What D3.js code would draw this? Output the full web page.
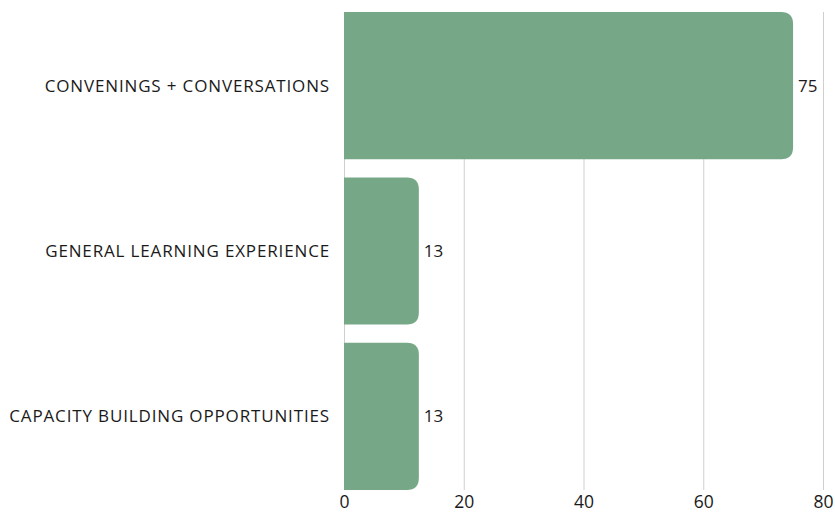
<!DOCTYPE html>
<html>
<head>
<meta charset="utf-8">
<script src="https://cdn.jsdelivr.net/npm/d3@7"></script>
<style>
  body { margin: 0; background: #fff; }
  text { font-family: "Open Sans", sans-serif; fill: #1a1a1a; }
</style>
</head>
<body>
<svg id="chart" width="835" height="514"></svg>
<script>
var categories = ["CONVENINGS + CONVERSATIONS", "GENERAL LEARNING EXPERIENCE", "CAPACITY BUILDING OPPORTUNITIES"];
var values = [75, 12.5, 12.5];
var xTicks = [0, 20, 40, 60, 80];

var margin = {top: 12, right: 12, bottom: 24, left: 344},
    width = 835 - margin.left - margin.right,
    height = 514 - margin.top - margin.bottom;

var svg = d3.select("#chart");
var g = svg.append("g").attr("transform", "translate(" + margin.left + "," + margin.top + ")");

var x = d3.scaleLinear().domain([0, 80]).range([0, 479]);
var y = d3.scaleBand().domain(categories).range([0, height]).paddingInner(0.11).paddingOuter(0);

// grid
g.selectAll(".grid").data(xTicks).enter().append("line")
  .attr("x1", function(d){ return x(d) + 0.5; })
  .attr("x2", function(d){ return x(d) + 0.5; })
  .attr("y1", 0).attr("y2", height)
  .attr("stroke", "#cfcfcf").attr("stroke-width", 1);

// bars, rounded on the right only
var r = 12;
function barPath(d, i) {
  var w = x(values[i]), y0 = y(d), h = y.bandwidth();
  var rr = Math.min(r, w / 2);
  return "M0," + y0 + "H" + (w - rr) + "Q" + w + "," + y0 + " " + w + "," + (y0 + rr) +
    "V" + (y0 + h - rr) + "Q" + w + "," + (y0 + h) + " " + (w - rr) + "," + (y0 + h) + "H0Z";
}
g.selectAll(".bar").data(categories).enter().append("path")
  .attr("class", "bar")
  .attr("d", barPath)
  .attr("fill", "#76a887");

// value labels
g.selectAll(".val").data(categories).enter().append("text")
  .attr("x", function(d, i){ return x(values[i]) + 5; })
  .attr("y", function(d){ return y(d) + y.bandwidth() / 2; })
  .attr("dy", "0.35em")
  .style("font-size", "17px")
  .text(function(d, i){ return Math.round(values[i]); });

// category labels
g.selectAll(".cat").data(categories).enter().append("text")
  .attr("x", -14)
  .attr("y", function(d){ return y(d) + y.bandwidth() / 2; })
  .attr("dy", "0.35em")
  .attr("text-anchor", "end")
  .style("font-size", "17px")
  .style("letter-spacing", "0.85px")
  .text(function(d){ return d; });

// x axis
var xAxis = g.append("g")
  .attr("transform", "translate(0," + height + ")")
  .call(d3.axisBottom(x).tickValues(xTicks).tickSize(0).tickPadding(6));
xAxis.select(".domain").remove();
xAxis.selectAll("text").style("font-size", "17.5px").style("font-family", "'Open Sans', sans-serif").attr("fill", "#1a1a1a");
</script>
</body>
</html>
